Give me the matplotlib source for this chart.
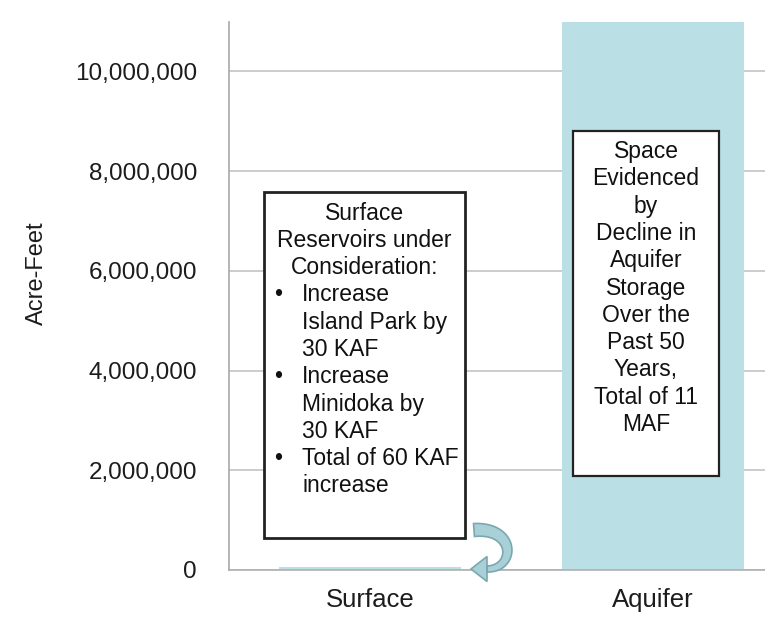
import matplotlib
matplotlib.use("Agg")
import numpy as np
import matplotlib.pyplot as plt
from matplotlib.ticker import FuncFormatter
from matplotlib.patches import Rectangle, Polygon

categories = ["Surface", "Aquifer"]
values = [60000, 11000000]
yticks = [0, 2000000, 4000000, 6000000, 8000000, 10000000]
ylabel = "Acre-Feet"

surface_header = ["Surface", "Reservoirs under", "Consideration:"]
surface_bullets = [
    ["Increase", "Island Park by", "30 KAF"],
    ["Increase", "Minidoka by", "30 KAF"],
    ["Total of 60 KAF", "increase"],
]
aquifer_lines = ["Space", "Evidenced", "by", "Decline in", "Aquifer", "Storage",
                 "Over the", "Past 50", "Years,", "Total of 11", "MAF"]

W, H = 765, 620
plt.rcParams['font.family'] = ['Liberation Sans', 'DejaVu Sans']
fig = plt.figure(figsize=(W / 100, H / 100), dpi=100)

def fx(x):
    return x / W

def fy(y):
    return 1 - y / H

ax_left, ax_right, ax_top, ax_bot = 229, 794, 21.6, 570
ax = fig.add_axes([fx(ax_left), fy(ax_bot), (ax_right - ax_left) / W, (ax_bot - ax_top) / H])

bar_color = "#badfe4"
ax.bar(range(len(categories)), values, width=0.645, color=bar_color, zorder=2)
ax.set_xlim(-0.5, 1.5)
ax.set_ylim(0, 11000000)
ax.set_yticks(yticks)
ax.yaxis.set_major_formatter(FuncFormatter(lambda v, p: f"{int(v):,}"))
ax.set_xticks(range(len(categories)))
ax.set_xticklabels(categories)
ax.tick_params(axis='y', length=0, pad=23, labelsize=17.5, colors='#1c1c1c')
ax.tick_params(axis='x', length=0, pad=13, labelsize=18.5, colors='#1c1c1c')
ax.yaxis.grid(True, color='#c4c4c4', linewidth=1.2, zorder=0)
ax.set_axisbelow(True)
for s in ['top', 'right']:
    ax.spines[s].set_visible(False)
ax.spines['left'].set_color('#a8a8a8')
ax.spines['bottom'].set_color('#b0b0b0')
ax.spines['left'].set_linewidth(1.2)
ax.spines['bottom'].set_linewidth(1.2)

fig.text(fx(37), fy(273), ylabel, rotation=90, ha='center', va='center',
         fontsize=17, color='#1c1c1c')

# Surface text box
fig.patches.append(Rectangle((fx(264), fy(538)), fx(465) - fx(264), fy(192) - fy(538),
                             transform=fig.transFigure, facecolor='white',
                             edgecolor='#222222', linewidth=2, zorder=5))
fs = 16.5
line_h = 27.3
y0 = 213
cx = (264 + 465) / 2
k = 0
for line in surface_header:
    fig.text(fx(cx), fy(y0 + k * line_h), line, ha='center', va='center',
             fontsize=fs, color='#111111', zorder=6)
    k += 1
for group in surface_bullets:
    for j, line in enumerate(group):
        if j == 0:
            fig.text(fx(278), fy(y0 + k * line_h), "\u2022", ha='center', va='center',
                     fontsize=fs, color='#111111', zorder=6)
        fig.text(fx(302), fy(y0 + k * line_h), line, ha='left', va='center',
                 fontsize=fs, color='#111111', zorder=6)
        k += 1

# Aquifer text box
fig.patches.append(Rectangle((fx(573), fy(476)), fx(719) - fx(573), fy(130.5) - fy(476),
                             transform=fig.transFigure, facecolor='white',
                             edgecolor='#222222', linewidth=1.6, zorder=5))
acx = (573 + 719) / 2
ay0 = 151.5
for i, line in enumerate(aquifer_lines):
    fig.text(fx(acx), fy(ay0 + i * 27.3), line, ha='center', va='center',
             fontsize=fs, color='#111111', zorder=6)

# curved arrow (tapered body + head), in pixel coordinates
P0, P1, P2, P3 = map(np.array, [(474, 530), (516, 527), (516, 569), (487, 569)])
t = np.linspace(0, 1, 60)[:, None]
pts = (1 - t) ** 3 * P0 + 3 * (1 - t) ** 2 * t * P1 + 3 * (1 - t) * t ** 2 * P2 + t ** 3 * P3
der = 3 * (1 - t) ** 2 * (P1 - P0) + 6 * (1 - t) * t * (P2 - P1) + 3 * t ** 2 * (P3 - P2)
der = der / np.linalg.norm(der, axis=1, keepdims=True)
nrm = np.column_stack([-der[:, 1], der[:, 0]])
half = (6.5 - 3.5 * t[:, 0])[:, None]
outer = pts - nrm * half
inner = pts + nrm * half
tip = np.array([471, 569])
head = [P3 + np.array([0, -12.5]), tip, P3 + np.array([0, 12.5])]
poly_px = np.vstack([outer, [head[0]], [tip], [head[2]], inner[::-1]])
poly = np.column_stack([poly_px[:, 0] / W, 1 - poly_px[:, 1] / H])
fig.patches.append(Polygon(poly, closed=True, transform=fig.transFigure,
                           facecolor='#a9d0d7', edgecolor='#7aa8b0', linewidth=1.2,
                           zorder=7))

fig.savefig("out.png", dpi=100)
